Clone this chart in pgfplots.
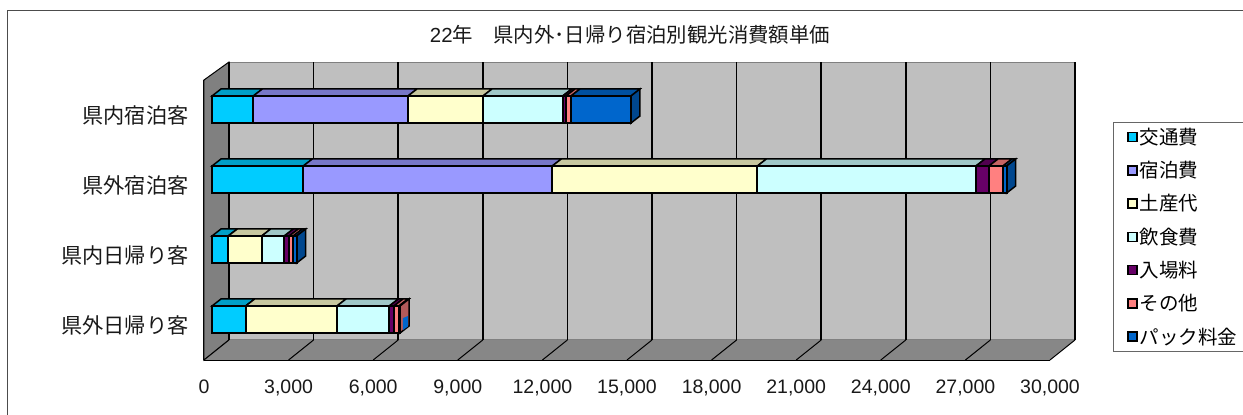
\documentclass[border=0pt]{standalone}
\usepackage{fontspec}
\usepackage{pgfplots}
\usepackage{pgfplotstable}
\pgfplotsset{compat=1.18}
\setmainfont{Liberation Sans}
\newfontfamily\cjk{Noto Sans CJK JP}
\definecolor{kotsu}{HTML}{00CCFF}
\definecolor{shuku}{HTML}{9999FF}
\definecolor{miyage}{HTML}{FFFFCC}
\definecolor{inshoku}{HTML}{CCFFFF}
\definecolor{nyujo}{HTML}{660066}
\definecolor{sonota}{HTML}{FF8080}
\definecolor{pack}{HTML}{0066CC}
\newcommand\ticksize{\fontsize{19.5}{22}\selectfont}
\newcommand\lab[1]{\makebox[103pt][l]{\cjk #1}}

% rows run bottom to top
\pgfplotstableread{
y kotsu shuku miyage inshoku nyujo sonota pack
0 1194 0 3239 1854 167 177 36
1 578 0 1184 802 177 142 120
2 3238 8829 7273 7750 463 497 130
3 1465 5485 2660 2826 117 177 2128
}\costs

% top faces of one bar, and the side face at its far end
\newcommand\barfaces[3]{%
  \gdef\cum{0}%
  \edef\yt{\fpeval{#2+0.193}}\edef\ytd{\fpeval{#2+0.293}}%
  \edef\yb{\fpeval{#2-0.193}}\edef\ybd{\fpeval{#2-0.093}}%
  \pgfplotsforeachungrouped \s in {kotsu,shuku,miyage,inshoku,nyujo,sonota,pack}{%
    \pgfplotstablegetelem{#1}{\s}\of\costs
    \edef\xa{\cum}%
    \xdef\cum{\fpeval{\cum+\pgfplotsretval}}%
    \edef\xad{\fpeval{\xa+319}}\edef\xb{\cum}\edef\xbd{\fpeval{\cum+319}}%
    \edef\face{\noexpand\addplot[draw=black,line width=1.5pt,fill=\s!78!black]
      coordinates {(\xa,\yt)(\xb,\yt)(\xbd,\ytd)(\xad,\ytd)} --cycle;}%
    \face
  }%
  \edef\face{\noexpand\addplot[draw=black,line width=1.5pt,fill=#3!70!black]
    coordinates {(\xb,\yt)(\xbd,\ytd)(\xbd,\ybd)(\xb,\yb)} --cycle;}%
  \face
}

\begin{document}
\begin{tikzpicture}[x=1pt,y=1pt]
\path[use as bounding box] (0,0) rectangle (1243,415);
\draw[black!70,line width=.8pt] (7,0) -- (7,405) -- (1243,405);

% walls, floor, grid and tick labels
\begin{axis}[
    at={(204pt,55pt)}, anchor=south west,
    scale only axis, width=846pt, height=280pt,
    xmin=0, xmax=30000, ymin=-0.5, ymax=3.5,
    clip=false,
    axis lines*=left, axis line style={-,black,line width=2pt},
    xtick={0,3000,...,30000},
    ytick={0,1,2,3},
    minor ytick={-0.5,0.5,1.5,2.5,3.5},
    yticklabels={県外日帰り客,県内日帰り客,県外宿泊客,県内宿泊客},
    major tick length=0pt, minor tick length=5pt, tick align=inside,
    minor tick style={black,line width=.8pt},
    scaled x ticks=false,
    /pgf/number format/fixed,
    /pgf/number format/1000 sep={,},
    /pgf/number format/assume math mode=true,
    xticklabel style={font=\ticksize,yshift=-16pt,text=black!90},
    yticklabel style={font=\fontsize{21.2}{22}\selectfont\cjk,xshift=-12pt,text=black!90},
    title={22{\cjk 年\hspace{1em}県内外･日帰り宿泊別観光消費額単価}},
    title style={font=\fontsize{20.4}{22}\selectfont,at={(0.5,1)},anchor=center,xshift=3pt,yshift=39pt,text=black!90},
]
\addplot[draw=black,line width=1pt,fill=black!50] coordinates {(0,-0.5)(0,3.5)(886.5,3.757)(886.5,-0.214)} --cycle;
\addplot[draw=black!50,line width=1pt,fill=black!25] coordinates {(886.5,-0.214)(30886.5,-0.214)(30886.5,3.757)(886.5,3.757)} --cycle;
\addplot[draw=none,fill=black!47] coordinates {(0,-0.5)(30000,-0.5)(30886.5,-0.214)(886.5,-0.214)} --cycle;
\pgfplotsinvokeforeach{886.5,3886.5,6886.5,9886.5,12886.5,15886.5,18886.5,21886.5,24886.5,27886.5,30886.5}{
  \addplot[black,line width=1.6pt] coordinates {(#1,-0.214)(#1,3.757)};
}
\addplot[black,line width=1pt] coordinates {(0,-0.5)(886.5,-0.214)};
\addplot[black,line width=1pt] coordinates {(3000,-0.5)(3886.5,-0.214)};
\addplot[black,line width=1pt] coordinates {(6000,-0.5)(6886.5,-0.214)};
\addplot[black,line width=1pt] coordinates {(9000,-0.5)(9886.5,-0.214)};
\addplot[black,line width=1pt] coordinates {(12000,-0.5)(12886.5,-0.214)};
\addplot[black,line width=1pt] coordinates {(15000,-0.5)(15886.5,-0.214)};
\addplot[black,line width=1pt] coordinates {(18000,-0.5)(18886.5,-0.214)};
\addplot[black,line width=1pt] coordinates {(21000,-0.5)(21886.5,-0.214)};
\addplot[black,line width=1pt] coordinates {(24000,-0.5)(24886.5,-0.214)};
\addplot[black,line width=1pt] coordinates {(27000,-0.5)(27886.5,-0.214)};
\addplot[black,line width=1pt] coordinates {(30000,-0.5)(30886.5,-0.214)};
\end{axis}

% depth faces of the bars
\begin{axis}[
    at={(212pt,60.5pt)}, anchor=south west,
    scale only axis, width=846pt, height=280pt,
    xmin=0, xmax=30000, ymin=-0.5, ymax=3.5,
    clip=false, hide axis,
]
\barfaces{0}{0}{sonota}
\barfaces{1}{1}{pack}
\barfaces{2}{2}{pack}
\barfaces{3}{3}{pack}
% the sliver of the package colour on the lowest bar's end
\addplot[draw=none,fill=pack] coordinates {(6770,0.02)(6950,0.05)(6950,-0.1)(6770,-0.15)} --cycle;
\end{axis}

% front faces of the bars and legend
\begin{axis}[
    at={(212pt,60.5pt)}, anchor=south west,
    scale only axis, width=846pt, height=280pt,
    xmin=0, xmax=30000, ymin=-0.5, ymax=3.5,
    clip=false, hide axis,
    xbar stacked, bar width=27pt,
    legend cell align=left,
    legend image code/.code={\draw[#1,line width=1.6pt] (0,-4.5pt) rectangle (9pt,4.5pt);},
    legend style={
      at={(1.065,0.83)}, anchor=north west,
      draw=black!60, line width=.8pt,
      font=\fontsize{19.5}{22}\selectfont,
      inner xsep=13.5pt, inner ysep=3.5pt,
      row sep=11.4pt,
    },
]
\addplot[draw=black,line width=1.8pt,fill=kotsu] table[x=kotsu,y=y] {\costs};
\addlegendentry{\lab{交通費}}
\addplot[draw=black,line width=1.8pt,fill=shuku] table[x=shuku,y=y] {\costs};
\addlegendentry{\lab{宿泊費}}
\addplot[draw=black,line width=1.8pt,fill=miyage] table[x=miyage,y=y] {\costs};
\addlegendentry{\lab{土産代}}
\addplot[draw=black,line width=1.8pt,fill=inshoku] table[x=inshoku,y=y] {\costs};
\addlegendentry{\lab{飲食費}}
\addplot[draw=black,line width=1.8pt,fill=nyujo] table[x=nyujo,y=y] {\costs};
\addlegendentry{\lab{入場料}}
\addplot[draw=black,line width=1.8pt,fill=sonota] table[x=sonota,y=y] {\costs};
\addlegendentry{\lab{その他}}
\addplot[draw=black,line width=1.8pt,fill=pack] table[x=pack,y=y] {\costs};
\addlegendentry{\lab{パック料金}}
\end{axis}
\end{tikzpicture}
\end{document}
